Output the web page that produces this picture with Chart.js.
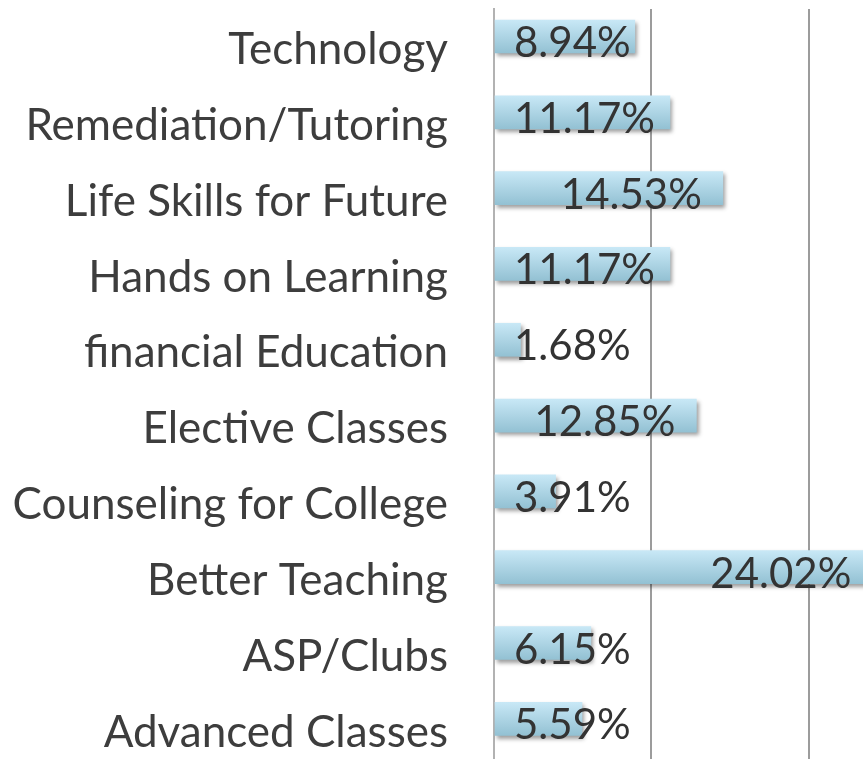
<!DOCTYPE html>
<html>
<head>
<meta charset="utf-8">
<script src="https://cdn.jsdelivr.net/npm/chart.js@4/dist/chart.umd.min.js"></script>
<style>
  html, body { margin: 0; padding: 0; background: #ffffff; overflow: hidden; }
  #wrap { position: relative; width: 863px; height: 759px; }
</style>
</head>
<body>
<div id="wrap"><canvas id="c" width="863" height="759"></canvas></div>
<script>
const categories = [
  "Technology",
  "Remediation/Tutoring",
  "Life Skills for Future",
  "Hands on Learning",
  "financial Education",
  "Elective Classes",
  "Counseling for College",
  "Better Teaching",
  "ASP/Clubs",
  "Advanced Classes"
];
const values = [8.94, 11.17, 14.53, 11.17, 1.68, 12.85, 3.91, 24.02, 6.15, 5.59];
const valueLabels = ["8.94%", "11.17%", "14.53%", "11.17%", "1.68%", "12.85%", "3.91%", "24.02%", "6.15%", "5.59%"];
const gridTicks = [0, 10, 20];

const FONT = "Lato";
const TEXT = "#3d3d3d";

const barFill = (ctx) => {
  const chart = ctx.chart;
  if (!chart.chartArea || !chart.scales.y) return "#add6e6";
  const y = chart.scales.y.getPixelForValue(ctx.dataIndex);
  const h = 33 / 2;
  const g = chart.ctx.createLinearGradient(0, y - h, 0, y + h);
  g.addColorStop(0, "#c8e8f6");
  g.addColorStop(1, "#93c1d3");
  return g;
};

const shadowPlugin = {
  id: "barShadow",
  beforeDatasetDraw(chart) {
    const c = chart.ctx;
    c.save();
    c.shadowColor = "rgba(0,0,0,0.38)";
    c.shadowBlur = 4;
    c.shadowOffsetX = 2;
    c.shadowOffsetY = 3;
  },
  afterDatasetDraw(chart) {
    chart.ctx.restore();
  }
};

const labelPlugin = {
  id: "valueLabels",
  afterDatasetsDraw(chart) {
    const c = chart.ctx;
    const meta = chart.getDatasetMeta(0);
    c.save();
    c.font = "42px " + FONT;
    c.fillStyle = "#333333";
    c.textBaseline = "alphabetic";
    c.textAlign = "left";
    meta.data.forEach((el, i) => {
      const txt = valueLabels[i];
      const w = c.measureText(txt).width;
      const left = Math.max(el.x - 21 - w, el.base + 19);
      c.fillText(txt, left, el.y + 20.5);
    });
    c.restore();
  }
};

new Chart(document.getElementById("c"), {
  type: "bar",
  data: {
    datasets: [{
      data: values.map((v, i) => ({ x: v, y: i })),
      backgroundColor: barFill,
      borderWidth: 0,
      barThickness: 33
    }]
  },
  options: {
    indexAxis: "y",
    responsive: false,
    animation: false,
    devicePixelRatio: 1,
    layout: { padding: { top: 9, left: 0, right: 0, bottom: 0 }, autoPadding: false },
    plugins: { legend: { display: false }, tooltip: { enabled: false } },
    scales: {
      x: {
        type: "linear",
        min: 0,
        max: 23.43,
        offset: false,
        afterBuildTicks(scale) { scale.ticks = gridTicks.map(v => ({ value: v })); },
        afterFit(scale) {
          scale.height = 0;
          scale.paddingLeft = 0; scale.paddingRight = 0;
          scale.paddingTop = 0; scale.paddingBottom = 0;
        },
        ticks: { display: false },
        border: { display: false },
        grid: {
          offset: false,
          drawTicks: false,
          lineWidth: 2,
          color: (ctx) => (ctx.tick && ctx.tick.value === 0) ? "rgba(0,0,0,0)" : "#9c9c9c"
        }
      },
      y: {
        type: "linear",
        reverse: true,
        offset: false,
        min: -0.363,
        max: 9.53,
        afterBuildTicks(scale) { scale.ticks = categories.map((_, i) => ({ value: i })); },
        afterFit(scale) {
          scale.width = 494;
          scale.paddingLeft = 0; scale.paddingRight = 0;
          scale.paddingTop = 0; scale.paddingBottom = 0;
        },
        ticks: {
          autoSkip: false,
          padding: 46,
          labelOffset: 13.5,
          color: TEXT,
          font: { family: FONT, size: 44 },
          callback: (v) => categories[v]
        },
        grid: { display: false, drawTicks: false, offset: false },
        border: { display: true, color: "#b2b2b2", width: 2 }
      }
    }
  },
  plugins: [shadowPlugin, labelPlugin]
});
</script>
</body>
</html>
